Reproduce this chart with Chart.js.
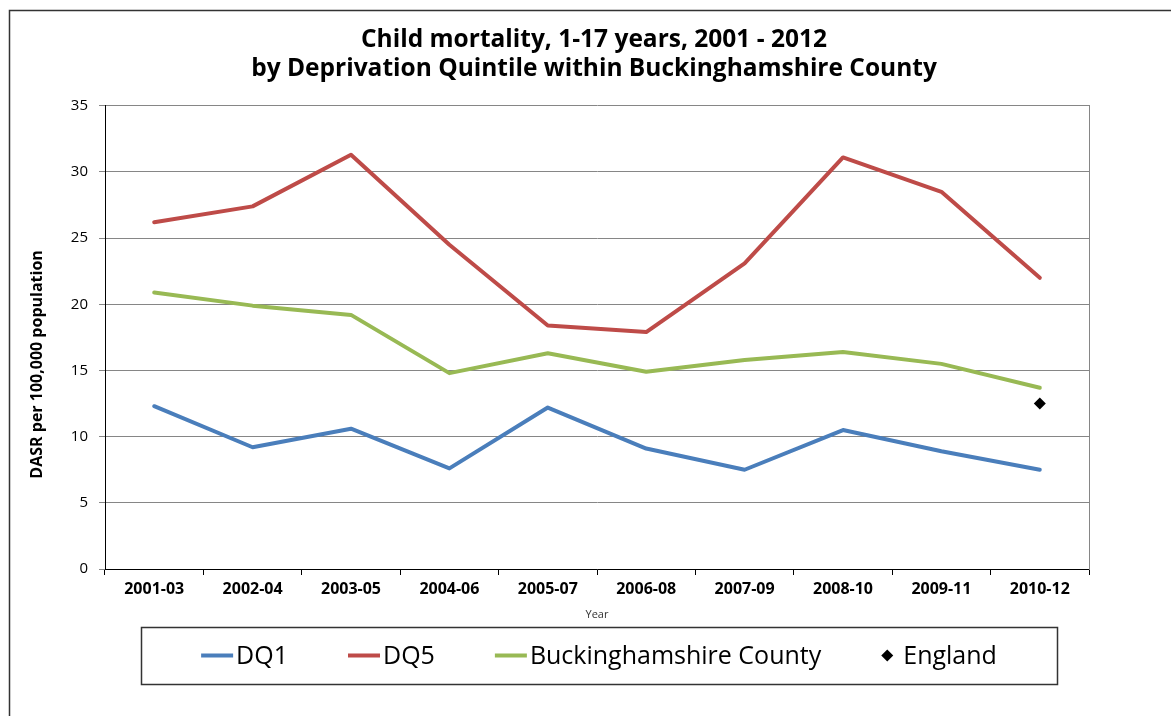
<!DOCTYPE html>
<html>
<head>
<meta charset="utf-8">
<script src="https://cdn.jsdelivr.net/npm/chart.js@4.4.0/dist/chart.umd.min.js"></script>
<style>
  html, body { margin: 0; padding: 0; background: #fff; }
  #wrap { width: 1171px; height: 716px; position: relative; }
</style>
</head>
<body>
<div id="wrap"><canvas id="mortalityChart"></canvas></div>
<script>
        // Data
        const periods = ['2001-03', '2002-04', '2003-05', '2004-06', '2005-07', '2006-08', '2007-09', '2008-10', '2009-11', '2010-12'];
        const dq1 = [12.3, 9.2, 10.6, 7.6, 12.2, 9.1, 7.5, 10.5, 8.9, 7.5];
        const dq5 = [26.2, 27.4, 31.3, 24.5, 18.4, 17.9, 23.1, 31.1, 28.5, 22.0];
        const bucks = [20.9, 19.9, 19.2, 14.8, 16.3, 14.9, 15.8, 16.4, 15.5, 13.7];
        const england = [null, null, null, null, null, null, null, null, null, 12.5];
        const yMin = 0, yMax = 35, yStep = 5;

        const FONT = "'Open Sans', 'Noto Sans', sans-serif";

        // Frame around the whole chart
        const framePlugin = {
            id: 'frame',
            beforeDraw(chart) {
                const ctx = chart.ctx;
                ctx.save();
                ctx.fillStyle = '#fff';
                ctx.fillRect(0, 0, chart.width, chart.height);
                ctx.strokeStyle = '#333';
                ctx.lineWidth = 1.5;
                ctx.strokeRect(9.5, 10.5, chart.width + 20, chart.height + 20);
                ctx.restore();
            }
        };

        // Boxed legend under the x axis
        const boxLegendPlugin = {
            id: 'boxLegend',
            afterDraw(chart) {
                const ctx = chart.ctx;
                const a = chart.chartArea;
                const lineLen = 32, lineGap = 3, markGap = 10, itemGap = 60, margin = 60;
                ctx.save();
                ctx.font = '25px ' + FONT;
                ctx.textBaseline = 'middle';
                const items = chart.data.datasets.map(ds => {
                    const isPoint = ds.showLine === false;
                    const markW = isPoint ? 12 : lineLen;
                    const gap = isPoint ? markGap : lineGap;
                    const tw = ctx.measureText(ds.label).width;
                    return { ds, isPoint, markW, gap, tw, w: markW + gap + tw };
                });
                const total = items.reduce((s, it) => s + it.w, 0) + itemGap * (items.length - 1);
                const cx = (a.left + a.right) / 2 + 2;
                let x = cx - total / 2;
                const top = a.bottom + 58, h = 57;
                const y = top + h / 2;
                ctx.strokeStyle = '#333';
                ctx.lineWidth = 1.5;
                ctx.strokeRect(Math.round(x - margin) + 0.5, top + 0.5, Math.round(total + margin * 2), h);
                items.forEach(it => {
                    if (it.isPoint) {
                        const r = 6;
                        ctx.fillStyle = it.ds.pointBackgroundColor;
                        ctx.beginPath();
                        ctx.moveTo(x + r, y - r);
                        ctx.lineTo(x + 2 * r, y);
                        ctx.lineTo(x + r, y + r);
                        ctx.lineTo(x, y);
                        ctx.closePath();
                        ctx.fill();
                    } else {
                        ctx.strokeStyle = it.ds.borderColor;
                        ctx.lineWidth = 4;
                        ctx.beginPath();
                        ctx.moveTo(x, y);
                        ctx.lineTo(x + it.markW, y);
                        ctx.stroke();
                    }
                    ctx.fillStyle = '#000';
                    ctx.textAlign = 'left';
                    ctx.fillText(it.ds.label, x + it.markW + it.gap, y + 1);
                    x += it.w + itemGap;
                });
                ctx.restore();
            }
        };

        const lineStyle = (color) => ({
            borderColor: color,
            backgroundColor: color,
            borderWidth: 4,
            pointRadius: 0,
            pointHoverRadius: 0,
            tension: 0,
            borderJoinStyle: 'round',
            borderCapStyle: 'round',
            fill: false
        });

        const ctx = document.getElementById('mortalityChart').getContext('2d');
        new Chart(ctx, {
            type: 'line',
            data: {
                labels: periods,
                datasets: [
                    { label: 'DQ1', data: dq1, ...lineStyle('#4A7EBB') },
                    { label: 'DQ5', data: dq5, ...lineStyle('#BE4B48') },
                    { label: 'Buckinghamshire County', data: bucks, ...lineStyle('#98B954') },
                    {
                        label: 'England',
                        data: england,
                        showLine: false,
                        pointStyle: 'rectRot',
                        pointRadius: 6,
                        pointBackgroundColor: '#000',
                        pointBorderColor: '#000',
                        pointBorderWidth: 0,
                        borderColor: '#000',
                        backgroundColor: '#000'
                    }
                ]
            },
            options: {
                responsive: true,
                maintainAspectRatio: false,
                animation: false,
                layout: { padding: { left: 17, right: 0, top: 10, bottom: 95 } },
                plugins: {
                    legend: { display: false },
                    tooltip: { enabled: false },
                    title: {
                        display: true,
                        text: ['Child mortality, 1-17 years, 2001 - 2012', 'by Deprivation Quintile within Buckinghamshire County'],
                        color: '#000',
                        font: { family: FONT, size: 24.5, weight: 'bold', lineHeight: 1.2 },
                        padding: { top: 15, bottom: 22 }
                    }
                },
                scales: {
                    x: {
                        offset: true,
                        grid: { offset: true, drawOnChartArea: false, tickLength: 6, tickColor: '#000' },
                        border: { color: '#000', width: 1 },
                        ticks: { color: '#000', padding: 5, maxRotation: 0, font: { family: FONT, size: 16, weight: 'bold' } },
                        title: { display: true, text: 'Year', color: '#333', font: { family: FONT, size: 11 }, padding: { top: 1, bottom: 0 } },
                        afterFit(scale) { scale.height = 52; }
                    },
                    y: {
                        min: yMin,
                        max: yMax,
                        ticks: { stepSize: yStep, color: '#000', padding: 11, font: { family: FONT, size: 15 } },
                        grid: { color: '#868686', tickColor: '#868686', tickLength: 6, lineWidth: 1 },
                        border: { color: '#000', width: 1 },
                        title: {
                            display: true,
                            text: 'DASR per 100,000 population' + '\u00a0'.repeat(13),
                            color: '#000',
                            font: { family: FONT, size: 16, weight: 'bold' },
                            padding: { top: 11, bottom: 0 }
                        },
                        afterFit(scale) { scale.width = 88; }
                    },
                    yRight: {
                        position: 'right',
                        min: yMin,
                        max: yMax,
                        grid: { display: false },
                        ticks: { display: false },
                        border: { display: true, color: '#868686', width: 1 },
                        afterFit(scale) { scale.width = 82; }
                    }
                }
            },
            plugins: [framePlugin, boxLegendPlugin]
        });
</script>
</body>
</html>
